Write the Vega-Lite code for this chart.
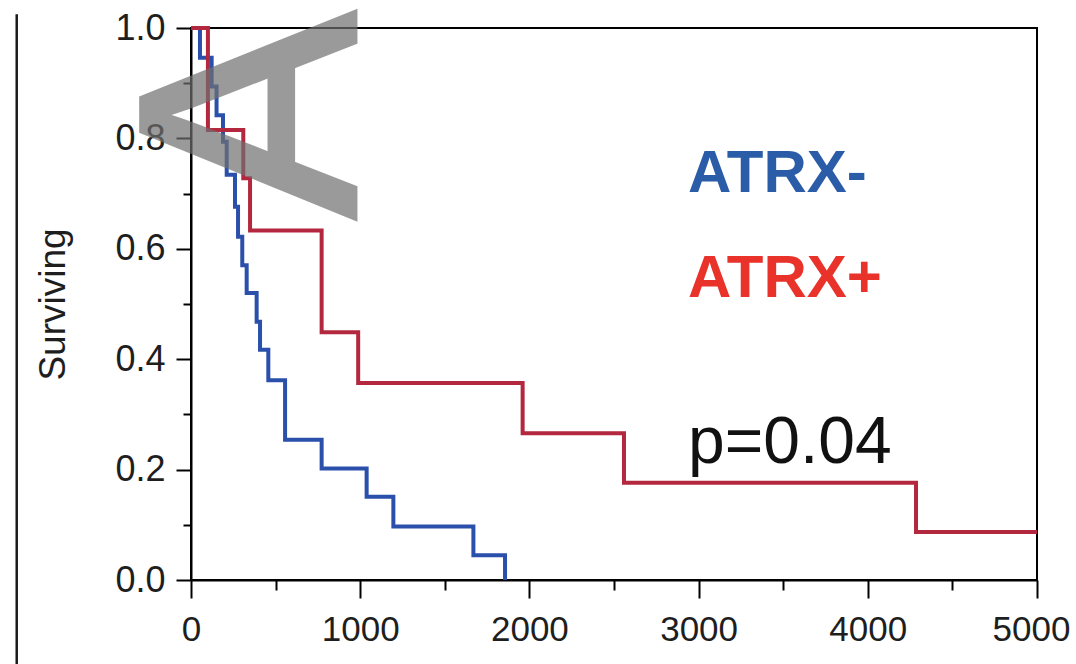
{
  "$schema": "https://vega.github.io/schema/vega-lite/v6.json",
  "width": 846,
  "height": 552,
  "autosize": {"type": "none"},
  "padding": {"left": 191, "top": 28, "right": 39, "bottom": 84},
  "background": "white",
  "config": {
    "view": {"stroke": "black", "strokeWidth": 2},
    "font": "Liberation Sans"
  },
  "datasets": {
    "km": [
      {"group": "ATRX-", "time": 0, "surv": 1.0},
      {"group": "ATRX-", "time": 53, "surv": 0.946},
      {"group": "ATRX-", "time": 122, "surv": 0.894},
      {"group": "ATRX-", "time": 151, "surv": 0.842},
      {"group": "ATRX-", "time": 189, "surv": 0.794},
      {"group": "ATRX-", "time": 211, "surv": 0.734},
      {"group": "ATRX-", "time": 260, "surv": 0.676},
      {"group": "ATRX-", "time": 278, "surv": 0.622},
      {"group": "ATRX-", "time": 303, "surv": 0.57},
      {"group": "ATRX-", "time": 329, "surv": 0.52},
      {"group": "ATRX-", "time": 388, "surv": 0.468},
      {"group": "ATRX-", "time": 408, "surv": 0.417},
      {"group": "ATRX-", "time": 457, "surv": 0.362},
      {"group": "ATRX-", "time": 556, "surv": 0.254},
      {"group": "ATRX-", "time": 772, "surv": 0.202},
      {"group": "ATRX-", "time": 1038, "surv": 0.151},
      {"group": "ATRX-", "time": 1196, "surv": 0.097},
      {"group": "ATRX-", "time": 1669, "surv": 0.045},
      {"group": "ATRX-", "time": 1856, "surv": 0.0},
      {"group": "ATRX+", "time": 0, "surv": 1.0},
      {"group": "ATRX+", "time": 100, "surv": 0.815},
      {"group": "ATRX+", "time": 309, "surv": 0.728},
      {"group": "ATRX+", "time": 349, "surv": 0.633},
      {"group": "ATRX+", "time": 772, "surv": 0.449},
      {"group": "ATRX+", "time": 988, "surv": 0.357},
      {"group": "ATRX+", "time": 1960, "surv": 0.266},
      {"group": "ATRX+", "time": 2559, "surv": 0.176},
      {"group": "ATRX+", "time": 4285, "surv": 0.087},
      {"group": "ATRX+", "time": 5000, "surv": 0.087}
    ]
  },
  "layer": [
    {
      "data": {"values": [{}]},
      "mark": {"type": "rule", "color": "#1a1a1a", "strokeWidth": 2.5, "clip": false},
      "encoding": {
        "x": {"datum": -1030, "type": "quantitative"},
        "y": {"datum": 1.025, "type": "quantitative"},
        "y2": {"datum": -0.16}
      }
    },
    {
      "data": {"name": "km"},
      "mark": {"type": "line", "interpolate": "step-after", "strokeWidth": 4},
      "encoding": {
        "x": {
          "field": "time",
          "type": "quantitative",
          "scale": {"domain": [0, 5000], "nice": false, "zero": false},
          "axis": {
            "title": null,
            "values": [0, 500, 1000, 1500, 2000, 2500, 3000, 3500, 4000, 4500, 5000],
            "format": "d",
            "labelExpr": "datum.value % 1000 === 0 ? datum.label : ''",
            "labelFlush": false,
            "labelOverlap": false,
            "labelFontSize": 35,
            "labelColor": "#1e1e1e",
            "labelPadding": 14,
            "labelOffset": {"condition": {"test": "datum.value === 5000", "value": -6}, "value": 0},
            "grid": false,
            "domainColor": "black",
            "domainWidth": 2,
            "tickColor": "black",
            "tickWidth": 2,
            "tickSize": {"condition": {"test": "datum.value % 1000 === 0", "value": 18}, "value": 10}
          }
        },
        "y": {
          "field": "surv",
          "type": "quantitative",
          "scale": {"domain": [0, 1], "nice": false},
          "axis": {
            "title": "Surviving",
            "titleFontSize": 37,
            "titleFontWeight": "normal",
            "titleColor": "#1e1e1e",
            "titlePadding": 42,
            "values": [0, 0.1, 0.2, 0.3, 0.4, 0.5, 0.6, 0.7, 0.8, 0.9, 1.0],
            "labelExpr": "round(datum.value * 10) % 2 === 0 ? format(datum.value, '.1f') : ''",
            "labelFlush": false,
            "labelOverlap": false,
            "labelFontSize": 36,
            "labelColor": "#1e1e1e",
            "labelPadding": 11,
            "grid": false,
            "domainColor": "black",
            "domainWidth": 2,
            "tickColor": "black",
            "tickWidth": 2,
            "tickSize": {"condition": {"test": "round(datum.value * 10) % 2 === 0", "value": 15}, "value": 8}
          }
        },
        "color": {
          "field": "group",
          "type": "nominal",
          "scale": {"domain": ["ATRX-", "ATRX+"], "range": ["#2a50ab", "#b3283e"]},
          "legend": null
        }
      }
    },
    {
      "data": {"values": [{"label": "ATRX-", "time": 2937, "surv": 0.703}]},
      "mark": {"type": "text", "align": "left", "baseline": "alphabetic", "fontSize": 60, "fontWeight": "bold", "color": "#2a5ca8"},
      "encoding": {
        "x": {"field": "time", "type": "quantitative"},
        "y": {"field": "surv", "type": "quantitative"},
        "text": {"field": "label"}
      }
    },
    {
      "data": {"values": [{"label": "ATRX+", "time": 2937, "surv": 0.513}]},
      "mark": {"type": "text", "align": "left", "baseline": "alphabetic", "fontSize": 60, "fontWeight": "bold", "color": "#e8322a"},
      "encoding": {
        "x": {"field": "time", "type": "quantitative"},
        "y": {"field": "surv", "type": "quantitative"},
        "text": {"field": "label"}
      }
    },
    {
      "data": {"values": [{"label": "p=0.04", "time": 2937, "surv": 0.212}]},
      "mark": {"type": "text", "align": "left", "baseline": "alphabetic", "fontSize": 66, "color": "#111111"},
      "encoding": {
        "x": {"field": "time", "type": "quantitative"},
        "y": {"field": "surv", "type": "quantitative"},
        "text": {"field": "label"}
      }
    },
    {
      "data": {"values": [{"label": "A", "time": 969, "surv": 0.842}]},
      "mark": {"type": "text", "align": "center", "baseline": "alphabetic", "angle": 270, "fontSize": 310, "color": "#707070", "stroke": "#707070", "strokeWidth": 5, "opacity": 0.7},
      "encoding": {
        "x": {"field": "time", "type": "quantitative"},
        "y": {"field": "surv", "type": "quantitative"},
        "text": {"field": "label"}
      }
    }
  ]
}
